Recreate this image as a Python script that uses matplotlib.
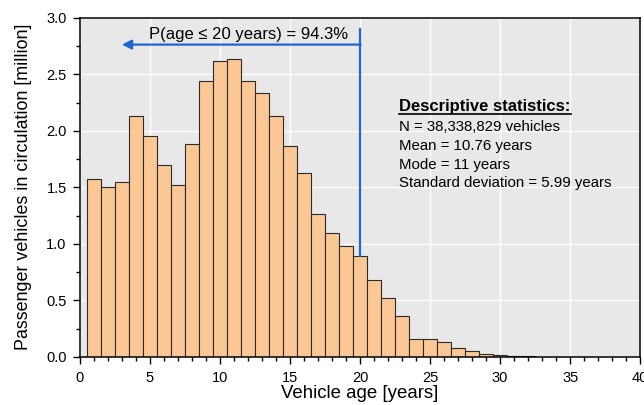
import matplotlib
matplotlib.use("Agg")
import matplotlib.pyplot as plt
from matplotlib.lines import Line2D
from matplotlib.ticker import MultipleLocator, FormatStrFormatter

plt.rcParams["font.family"] = ["Liberation Sans", "DejaVu Sans"]

# vehicles in circulation by age (millions)
ages = list(range(1, 33))
vehicles_m = [1.573, 1.507, 1.543, 2.128, 1.950, 1.697, 1.520, 1.883, 2.444, 2.621,
              2.639, 2.438, 2.338, 2.131, 1.862, 1.631, 1.260, 1.095, 0.985, 0.894,
              0.680, 0.516, 0.357, 0.157, 0.154, 0.135, 0.077, 0.047, 0.027, 0.015,
              0.006, 0.003]

cutoff_age = 20
share_label = "P(age \u2264 20 years) = 94.3%"
stats_title = "Descriptive statistics:"
stats_lines = [
    "N = 38,338,829 vehicles",
    "Mean = 10.76 years",
    "Mode = 11 years",
    "Standard deviation = 5.99 years",
]

fig = plt.figure(figsize=(6.44, 4.05), dpi=100)
ax = fig.add_axes([0.124, 0.119, 0.870, 0.837])
ax.set_facecolor("#e8e8e8")
ax.grid(True, which="major", color="white", linewidth=1.0)
ax.set_axisbelow(True)

ax.bar(ages, vehicles_m, width=1.0, color="#fbc895", edgecolor="#2b2b2b", linewidth=0.8)

ax.set_xlim(0, 40)
ax.set_ylim(0, 3.0)
ax.xaxis.set_major_locator(MultipleLocator(5))
ax.xaxis.set_minor_locator(MultipleLocator(1))
ax.yaxis.set_major_locator(MultipleLocator(0.5))
ax.yaxis.set_minor_locator(MultipleLocator(0.25))
ax.yaxis.set_major_formatter(FormatStrFormatter("%.1f"))
ax.tick_params(which="major", direction="out", length=5, width=1, labelsize=10.5)
ax.tick_params(which="minor", direction="out", length=3, width=1)
ax.tick_params(axis="x", which="major", pad=5)
ax.tick_params(axis="y", which="major", pad=4.5)
for sp in ax.spines.values():
    sp.set_linewidth(1.1)

ax.set_xlabel("Vehicle age [years]", fontsize=13.4, labelpad=0)
ax.set_ylabel("Passenger vehicles in circulation [million]", fontsize=12.9, labelpad=10)

# cumulative share marker
blue = "#1f66d1"
ax.plot([cutoff_age, cutoff_age], [vehicles_m[ages.index(cutoff_age)], 2.90],
        color=blue, linewidth=1.6)
ax.annotate("", xy=(3.0, 2.763), xytext=(cutoff_age + 0.05, 2.763),
            arrowprops=dict(arrowstyle="-|>", color=blue, lw=1.6,
                            mutation_scale=14, shrinkA=0, shrinkB=0))
ax.text(12.07, 2.79, share_label, ha="center", va="bottom", fontsize=12)

# descriptive statistics block
title = ax.text(22.8, 2.175, stats_title, fontsize=12, fontweight="bold",
                ha="left", va="baseline")
for i, line in enumerate(stats_lines):
    ax.text(22.8, 1.995 - i * 0.165, line, fontsize=10.8, ha="left", va="baseline")

fig.canvas.draw()
bb = title.get_window_extent().transformed(fig.transFigure.inverted())
base_y = ax.transData.transform((0, 2.175))[1]
uy = fig.transFigure.inverted().transform((0, base_y - 3))[1]
fig.add_artist(Line2D([bb.x0, bb.x1], [uy, uy], transform=fig.transFigure,
                      color="black", linewidth=1.2))

fig.savefig("out.png", dpi=100)
